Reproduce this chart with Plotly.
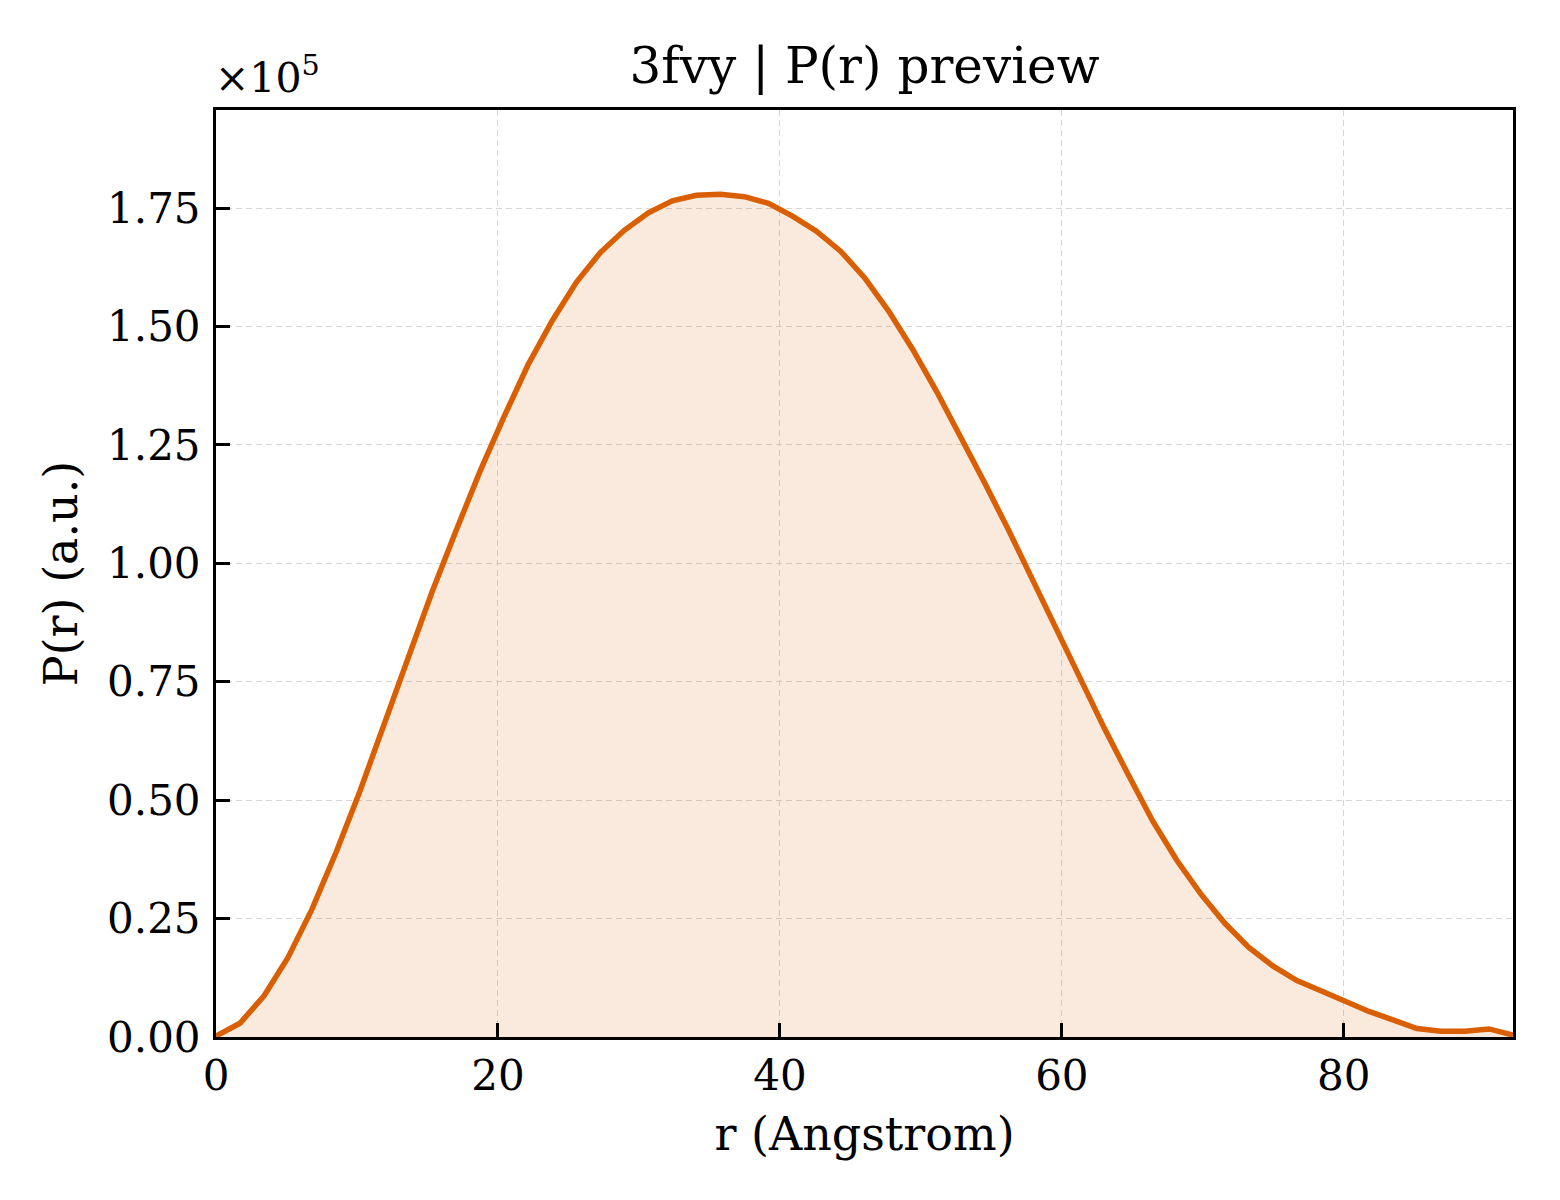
import plotly.graph_objects as go

r_values = [0.00, 1.70, 3.41, 5.11, 6.81, 8.52, 10.22, 11.93, 13.63, 15.33,
            17.04, 18.74, 20.44, 22.15, 23.85, 25.56, 27.26, 28.96, 30.67, 32.37,
            34.07, 35.78, 37.48, 39.19, 40.89, 42.59, 44.30, 46.00, 47.70, 49.41,
            51.11, 52.81, 54.52, 56.22, 57.93, 59.63, 61.33, 63.04, 64.74, 66.44,
            68.15, 69.85, 71.56, 73.26, 74.96, 76.67, 78.37, 80.07, 81.78, 83.48,
            85.19, 86.89, 88.59, 90.30, 92.00]
p_values = [200, 2900, 8700, 16800, 27000, 39000, 52000, 66000, 80000, 94000,
            107000, 119500, 131000, 142000, 151200, 159300, 165600, 170300, 174000, 176500,
            177700, 177900, 177400, 176000, 173300, 170100, 165900, 160300, 153300, 145200,
            136300, 126800, 117000, 107000, 96500, 86000, 75200, 65000, 55200, 45600,
            37300, 30200, 24000, 18900, 15000, 11900, 9750, 7500, 5400, 3600,
            1800, 1200, 1200, 1700, 400]

x_ticks = [0, 20, 40, 60, 80]
y_ticks = [0, 25000, 50000, 75000, 100000, 125000, 150000, 175000]
y_tick_labels = ["0.00", "0.25", "0.50", "0.75", "1.00", "1.25", "1.50", "1.75"]

line_color = "#d95f02"
serif = "DejaVu Serif"

fig = go.Figure()
fig.add_trace(go.Scatter(
    x=r_values, y=p_values, mode="lines",
    line=dict(color=line_color, width=5.5),
    fill="tozeroy", fillcolor="rgba(217,95,2,0.13)",
    showlegend=False,
))

axis_common = dict(
    showline=True, linecolor="black", linewidth=3, mirror=True,
    ticks="inside", ticklen=14, tickwidth=2.5, tickcolor="black",
    showgrid=True, gridcolor="#d6d6d6", gridwidth=1.3, griddash="6px,4px",
    zeroline=False,
    tickfont=dict(family=serif, size=42, color="black"),
)

fig.update_xaxes(
    range=[0, 92], tickvals=x_ticks, ticklabelstandoff=0,
    title=dict(text="r (Angstrom)", font=dict(family=serif, size=46, color="black"), standoff=19),
    **axis_common,
)
fig.update_yaxes(
    range=[0, max(p_values) * 1.1], tickvals=y_ticks, ticktext=y_tick_labels,
    ticklabelstandoff=4,
    title=dict(text="P(r) (a.u.)", font=dict(family=serif, size=46, color="black"), standoff=15),
    **axis_common,
)

# matplotlib-style offset text above the y axis
fig.add_annotation(
    text="×10<sup>5</sup>", xref="paper", yref="paper", x=0, y=1,
    xanchor="left", yanchor="bottom", xshift=-3, yshift=6, showarrow=False,
    font=dict(family=serif, size=41, color="black"),
)

fig.update_layout(
    width=1560, height=1200,
    margin=dict(l=208, r=55, t=102, b=171),
    paper_bgcolor="white", plot_bgcolor="white",
    title=dict(text="3fvy | P(r) preview", x=0.5, xref="paper", xanchor="center",
               y=1, yref="paper", yanchor="bottom", pad=dict(b=27),
               font=dict(family=serif, size=50, color="black")),
)

fig.write_html("out.html")
